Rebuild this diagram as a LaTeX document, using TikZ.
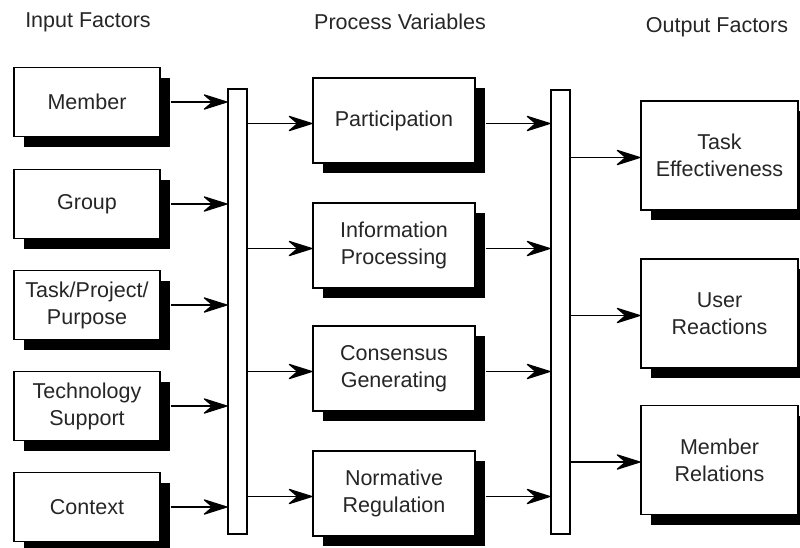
\documentclass[tikz,border=0pt]{standalone}
\usepackage{fontspec}
\setmainfont{Liberation Sans}
\usetikzlibrary{arrows.meta,shadows}
\begin{document}
\begin{tikzpicture}[x=1pt,y=-1pt,
  txt/.style={font=\fontsize{21.5}{27}\selectfont, text=black!85},
  box/.style={txt, draw=black, line width=1.2pt, fill=white, align=center, inner sep=0pt,
    drop shadow={shadow xshift=10pt, shadow yshift=-10pt, fill=black, opacity=1}},
  inbox/.style={box, minimum width=146pt, minimum height=69pt},
  procbox/.style={box, minimum width=162pt, minimum height=85pt},
  outbox/.style={box, minimum width=157pt, minimum height=109pt},
  bar/.style={draw=black, line width=1.2pt, fill=white, inner sep=0pt, minimum width=19pt},
  head/.style={txt, inner sep=0pt},
  arr/.style={line width=1.2pt, -{Stealth[length=27pt, width=17pt, inset=10pt, round]}}
]
\useasboundingbox (0,0) rectangle (800,547);
\clip (0,0) rectangle (800,547);

% headers
\node[head] (h1) at (88,22) {Input Factors};
\node[head] (h2) at (400,22) {Process Variables};
\node[head] (h3) at (717,27) {Output Factors};

% bars
\node[bar, minimum height=445pt] (lbar) at (237.5,311.5) {};
\node[bar, minimum height=444pt] (mbar) at (560.5,312) {};

% input factors
\node[inbox] (member) at (87,102) {Member};
\node[inbox] (group) at (87,204) {Group};
\node[inbox] (task) at (87,305) {Task/Project/\\Purpose};
\node[inbox] (tech) at (87,406) {Technology\\Support};
\node[inbox] (context) at (87,507) {Context};

% process variables
\node[procbox] (part) at (394,120.5) {Participation};
\node[procbox] (info) at (394,245.5) {Information\\Processing};
\node[procbox] (cons) at (394,368.5) {Consensus\\Generating};
\node[procbox] (norm) at (394,493.5) {Normative\\Regulation};

% output factors
\node[outbox] (taskeff) at (719.5,155.5) {Task\\Effectiveness};
\node[outbox] (user) at (719.5,313.5) {User\\Reactions};
\node[outbox] (memrel) at (719.5,460) {Member\\Relations};

% input arrows
\foreach \n in {member,group,task,tech,context}
  \draw[arr] ([xshift=10pt]\n.east) -- (\n.east -| lbar.west);

% bar to process
\foreach \n in {part,info,cons,norm}
  \draw[arr] ([yshift=-3pt]lbar.east |- \n.west) -- ([yshift=-3pt]\n.west);

% process to bar
\foreach \n in {part,info,cons,norm}
  \draw[arr] ([xshift=10pt,yshift=-3pt]\n.east) -- ([yshift=-3pt]\n.east -| mbar.west);

% bar to output
\foreach \n in {taskeff,user,memrel}
  \draw[arr] ([yshift=-2pt]mbar.east |- \n.west) -- ([yshift=-2pt]\n.west);
\end{tikzpicture}
\end{document}
